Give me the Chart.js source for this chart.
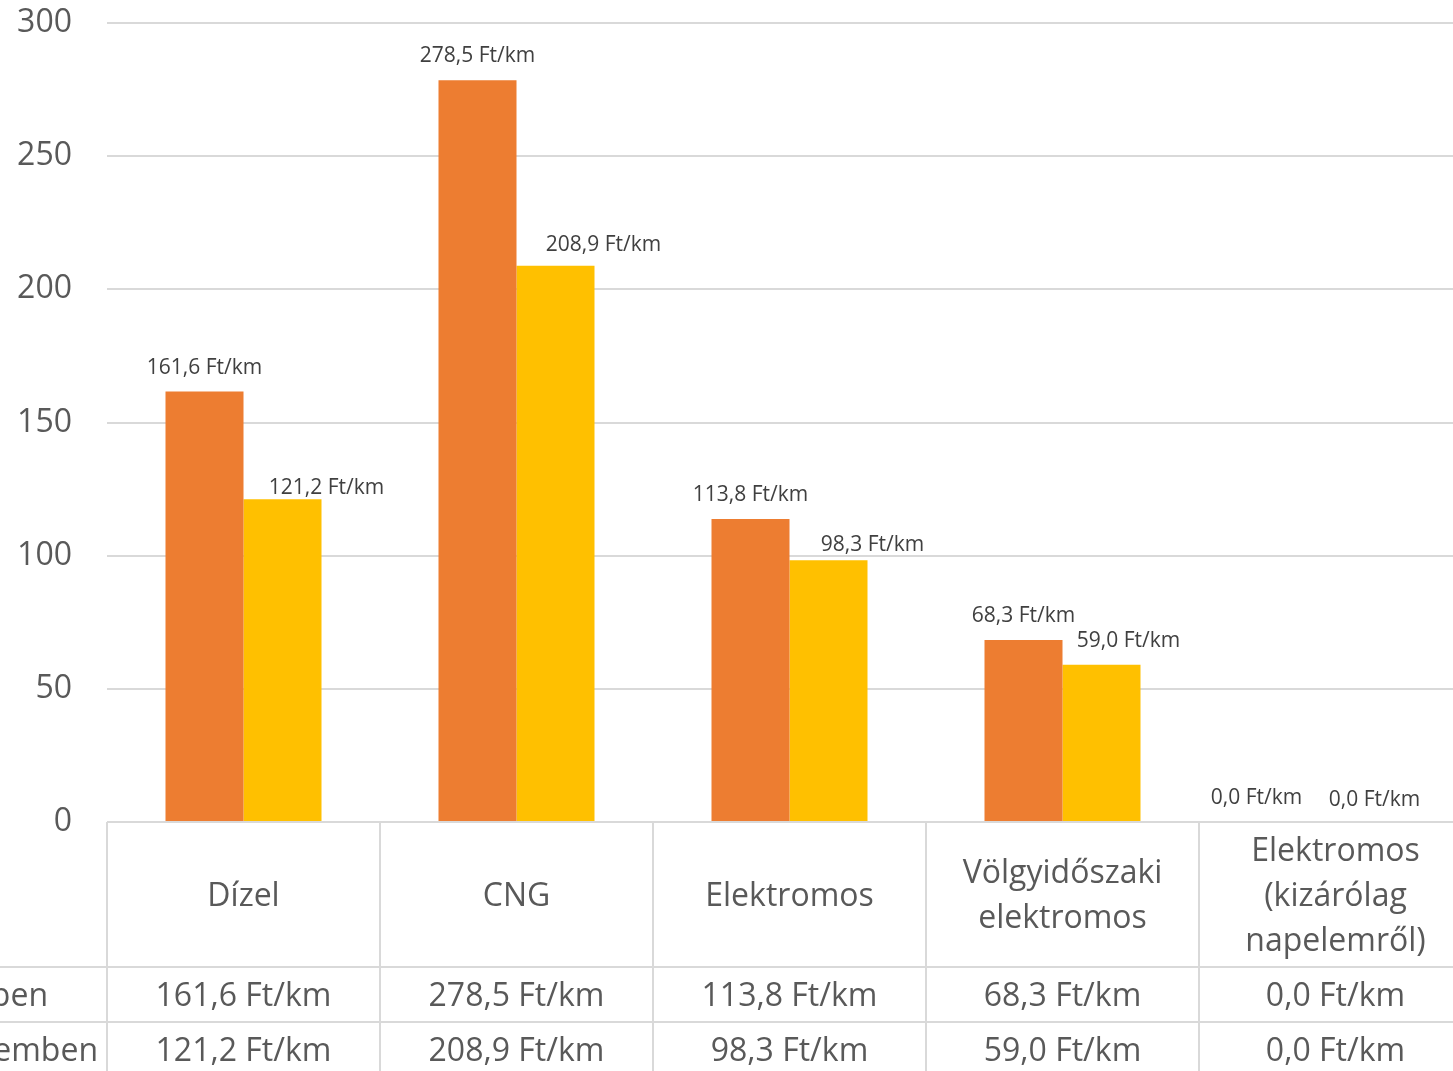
<!DOCTYPE html>
<html lang="hu">
<head>
<meta charset="utf-8">
<title>Ft/km költség hajtáslánconként</title>
<script src="https://cdn.jsdelivr.net/npm/chart.js@4.4.1/dist/chart.umd.min.js"></script>
<style>
  html, body { margin: 0; padding: 0; background: #fff; overflow: hidden; }
  canvas { display: block; }
</style>
</head>
<body>
<canvas id="costChart" width="1480" height="1071"></canvas>
<script>
// ---- adatok ----
const categories = [
  ['Dízel'],
  ['CNG'],
  ['Elektromos'],
  ['Völgyidőszaki', 'elektromos'],
  ['Elektromos', '(kizárólag', 'napelemről)']
];
const seriesNames = ['Városi üzemben', 'Országúti üzemben'];
const cityCost = [161.6, 278.5, 113.8, 68.3, 0.0];
const roadCost = [121.2, 208.9, 98.3, 59.0, 0.0];
const yTicks = [0, 50, 100, 150, 200, 250, 300];

// ---- megjelenés ----
const FONT = '"Open Sans", "Noto Sans", sans-serif';
const TEXT = '#595959';
const LABEL = '#404040';
const GRID = '#d9d9d9';
const COLORS = ['#ED7D31', '#FFC000'];

// címkék eltolása (dx, dy), hogy ne takarják egymást
const labelNudge = [
  [[0, 0], [0, 0], [0, 0], [0, 0], [-40, 0]],
  [[44, 13], [48, 3], [44, 9], [27, 0], [0, 2]]
];

const HEAD_H = 145;  // kategória fejléc magassága
const ROW_H = 55;    // adatsorok magassága

const fmt = v => v.toFixed(1).replace('.', ',') + ' Ft/km';

// adatfeliratok az oszlopok felett
const valueLabels = {
  id: 'valueLabels',
  afterDatasetsDraw(chart) {
    const { ctx } = chart;
    ctx.save();
    ctx.font = `21px ${FONT}`;
    ctx.fillStyle = LABEL;
    ctx.textAlign = 'center';
    ctx.textBaseline = 'middle';
    chart.data.datasets.forEach((ds, di) => {
      chart.getDatasetMeta(di).data.forEach((bar, i) => {
        const [dx, dy] = labelNudge[di][i];
        ctx.fillText(fmt(ds.data[i]), bar.x + dx, bar.y - 24 + dy);
      });
    });
    ctx.restore();
  }
};

// adattábla a diagram alatt
const dataTable = {
  id: 'dataTable',
  afterDraw(chart) {
    const { ctx, chartArea: a } = chart;
    const n = categories.length;
    const catW = (a.right - a.left) / n;
    const top = a.bottom;
    const headBot = top + HEAD_H;
    const rows = [headBot, headBot + ROW_H];

    ctx.save();
    ctx.font = `32px ${FONT}`;
    const legendW = Math.max(...seriesNames.map(s => ctx.measureText(s).width));
    const legendX = a.left - 9 - legendW;

    const line = (x1, y1, x2, y2) => {
      ctx.beginPath(); ctx.moveTo(x1, y1); ctx.lineTo(x2, y2); ctx.stroke();
    };
    ctx.strokeStyle = GRID;
    ctx.lineWidth = 2;
    line(a.left, top, a.right, top);
    rows.forEach(y => line(legendX - 40, y, a.right, y));
    line(legendX - 40, rows[1] + ROW_H, a.right, rows[1] + ROW_H);
    for (let i = 0; i <= n; i++) {
      const x = a.left + i * catW;
      line(x, top, x, chart.height);
    }

    ctx.fillStyle = TEXT;
    ctx.textBaseline = 'middle';
    ctx.textAlign = 'center';
    // fejléc
    categories.forEach((lines, i) => {
      const cx = a.left + (i + 0.5) * catW;
      const cy = top + HEAD_H / 2 + 2;
      lines.forEach((t, k) => {
        ctx.fillText(t, cx, cy + (k - (lines.length - 1) / 2) * 45);
      });
    });
    // értékek
    [cityCost, roadCost].forEach((vals, r) => {
      const cy = rows[r] + ROW_H / 2 + 2;
      vals.forEach((v, i) => {
        ctx.fillText(fmt(v), a.left + (i + 0.5) * catW, cy);
      });
    });
    // sorcímkék jelmagyarázattal
    ctx.textAlign = 'left';
    seriesNames.forEach((s, r) => {
      const cy = rows[r] + ROW_H / 2 + 2;
      ctx.fillStyle = COLORS[r];
      ctx.fillRect(legendX - 26, cy - 8, 16, 16);
      ctx.fillStyle = TEXT;
      ctx.fillText(s, legendX, cy);
    });
    ctx.restore();
  }
};

new Chart(document.getElementById('costChart'), {
  type: 'bar',
  data: {
    labels: categories.map(c => c.join(' ')),
    datasets: [
      { label: seriesNames[0], data: cityCost, backgroundColor: COLORS[0] },
      { label: seriesNames[1], data: roadCost, backgroundColor: COLORS[1] }
    ]
  },
  options: {
    responsive: false,
    animation: false,
    layout: { padding: { top: 23, right: 8, bottom: 249, left: 0 } },
    datasets: { bar: { categoryPercentage: 2 / 3.5, barPercentage: 1 } },
    plugins: {
      legend: { display: false },
      tooltip: { enabled: false }
    },
    scales: {
      x: { display: false },
      y: {
        min: 0,
        max: 300,
        afterBuildTicks: scale => { scale.ticks = yTicks.map(v => ({ value: v })); },
        afterFit: scale => {
          scale.width = 107;
          scale.paddingTop = 0;
          scale.paddingBottom = 0;
        },
        border: { display: false },
        grid: { color: GRID, lineWidth: 2, drawTicks: false },
        ticks: { color: TEXT, padding: 35, font: { family: FONT, size: 32 } }
      }
    }
  },
  plugins: [valueLabels, dataTable]
});
</script>
</body>
</html>
